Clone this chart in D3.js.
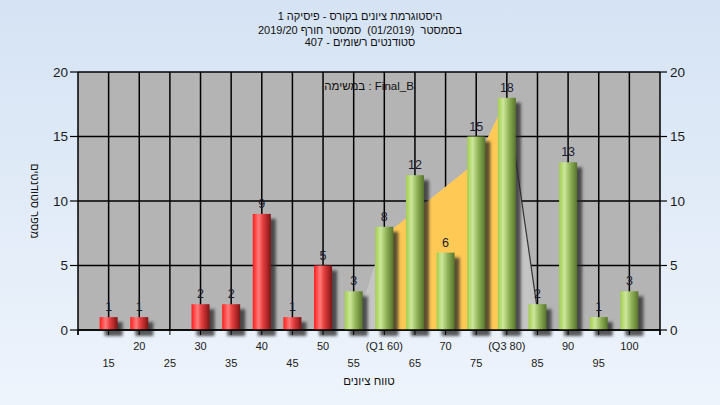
<!DOCTYPE html>
<html><head><meta charset="utf-8">
<script src="https://cdn.jsdelivr.net/npm/d3@7"></script>
<style>body{margin:0;padding:0;overflow:hidden}svg{display:block}text{font-family:"Liberation Sans",Arial,sans-serif}</style>
</head><body>
<script>
const titleLines = ["היסטוגרמת ציונים בקורס - פיסיקה 1", "בסמסטר  (01/2019)  סמסטר חורף 2019/20", "סטודנטים רשומים - 407"];
const categories = [15,20,25,30,35,40,45,50,55,60,65,70,75,80,85,90,95,100];
const counts = [1,1,0,2,2,9,1,5,3,8,12,6,15,18,2,13,1,3];
const passMark = 55;
const xTickLabels = {60:"(Q1 60)", 80:"(Q3 80)"};
const yTicks = [0,5,10,15,20];
const areaCats = [55,60,75,80,85];
const areaVals = [0,7.3,13,18,1.5];
const q1 = 60, q3 = 80;
const taskLabel = "במשימה : Final_B";
const xTitle = "טווח ציונים";
const yTitle = "מספר סטודנטים";

const W=720,H=405;
const svg=d3.select("body").append("svg").attr("width",W).attr("height",H);
const defs=svg.append("defs");
const bg=defs.append("linearGradient").attr("id","bg").attr("x1",0).attr("y1",0).attr("x2",0).attr("y2",1);
bg.append("stop").attr("offset",0).attr("stop-color","#D5E3F4");
bg.append("stop").attr("offset",1).attr("stop-color","#EEF4FC");
function grad(id,stops){const g=defs.append("linearGradient").attr("id",id).attr("x1",0).attr("y1",0).attr("x2",1).attr("y2",0);
 stops.forEach(s=>g.append("stop").attr("offset",s[0]).attr("stop-color",s[1]));}
grad("red",[[0,"#FF1C1C"],[0.33,"#FF7C7C"],[0.55,"#E84040"],[1,"#7E1414"]]);
grad("green",[[0,"#A2CE4E"],[0.3,"#CCE79A"],[0.6,"#93B55A"],[1,"#56742A"]]);
defs.append("filter").attr("id","blur").attr("x","-50%").attr("y","-50%").attr("width","200%").attr("height","200%")
 .append("feGaussianBlur").attr("stdDeviation",1.8);

// Lay out words one by one, centred at (cx, cy); rev places the first word at the right
function wordLine(parent, str, cx, cy, size, rotate, rev){
  const g=parent.append("g").attr("transform",`translate(${cx},${cy})`+(rotate?` rotate(${rotate})`:""));
  let words=str.split(" ");
  if(rev) words=words.slice().reverse();
  const probe=g.append("text").attr("font-size",size).text("a a");
  const probe2=g.append("text").attr("font-size",size).text("aa");
  const sp=probe.node().getComputedTextLength()-probe2.node().getComputedTextLength();
  probe.remove();probe2.remove();
  const els=words.map(w=>g.append("text").attr("font-size",size).attr("fill","#111").attr("dy","0.35em").text(w));
  const widths=els.map(e=>e.node().getComputedTextLength());
  const total=d3.sum(widths)+sp*(words.length-1);
  let cur=-total/2;
  els.forEach((e,i)=>{e.attr("x",cur+widths[i]/2).attr("text-anchor","middle");cur+=widths[i]+sp;});
  return g;
}

svg.append("rect").attr("width",W).attr("height",H).attr("fill","url(#bg)");

const L=78,R=660,T=72,B=330;
const x=d3.scaleLinear().domain([10,105]).range([L,R]);
const y=d3.scaleLinear().domain([0,20]).range([B,T]);

svg.append("rect").attr("x",L).attr("y",T).attr("width",R-L).attr("height",B-T).attr("fill","#B4B4B4");

// grid
const grid=svg.append("g").attr("stroke","#000").attr("stroke-width",1.5);
grid.selectAll("line.h").data(yTicks).join("line").attr("x1",L).attr("x2",R).attr("y1",d=>y(d)).attr("y2",d=>y(d));
grid.selectAll("line.v").data(categories).join("line").attr("y1",T).attr("y2",B).attr("x1",d=>x(d)).attr("x2",d=>x(d));

// area (grey full, yellow between Q1 and Q3)
const pts=areaCats.map((c,i)=>[c,areaVals[i]]);
const areaGen=d3.area().x(d=>x(d[0])).y0(y(0)).y1(d=>y(d[1]));
svg.append("path").attr("d",areaGen(pts)).attr("fill","#C4C4C4");
svg.append("path").attr("d",areaGen(pts.filter(p=>p[0]>=q1&&p[0]<=q3))).attr("fill","#FFC955");
svg.append("path").attr("d",d3.line().x(d=>x(d[0])).y(d=>y(d[1]))(pts.filter(p=>p[0]>=q3)))
 .attr("fill","none").attr("stroke","#333").attr("stroke-width",1.2);

// axes lines
svg.append("line").attr("x1",L).attr("x2",L).attr("y1",T).attr("y2",B+5).attr("stroke","#000").attr("stroke-width",1.5);
svg.append("line").attr("x1",R).attr("x2",R).attr("y1",T).attr("y2",B+5).attr("stroke","#000").attr("stroke-width",1.5);

// bars
const data=categories.map((c,i)=>({c,v:counts[i]}));
const bw=18;
const bars=svg.append("g");
bars.selectAll("rect.sh").data(data.filter(d=>d.v>0)).join("rect")
 .attr("x",d=>x(d.c)-bw/2+5).attr("y",d=>y(d.v)+5).attr("width",bw).attr("height",d=>y(0)-y(d.v)+1)
 .attr("fill","#262626").attr("opacity",0.75).attr("filter","url(#blur)");
bars.selectAll("rect.b").data(data.filter(d=>d.v>0)).join("rect")
 .attr("x",d=>x(d.c)-bw/2).attr("y",d=>y(d.v)).attr("width",bw).attr("height",d=>y(0)-y(d.v))
 .attr("fill",d=>d.c<passMark?"url(#red)":"url(#green)");
bars.selectAll("text").data(data.filter(d=>d.v>0)).join("text")
 .attr("x",d=>x(d.c)).attr("y",d=>y(d.v)-6).attr("text-anchor","middle")
 .attr("font-size",12.5).attr("fill","#1c1c30").text(d=>d.v);

// bottom axis line & ticks
svg.append("line").attr("x1",L).attr("x2",R).attr("y1",B).attr("y2",B).attr("stroke","#000").attr("stroke-width",1.5);
const xt=d3.range(10,106,5);
svg.append("g").attr("stroke","#000").selectAll("line").data(xt).join("line")
 .attr("x1",d=>x(d)).attr("x2",d=>x(d)).attr("y1",B).attr("y2",B+5);
svg.append("g").selectAll("text").data(categories).join("text")
 .attr("x",d=>x(d)).attr("y",(d,i)=>i%2===1?349.5:366.5).attr("text-anchor","middle")
 .attr("font-size",11).attr("fill","#1a1a1a").text(d=>xTickLabels[d]||d);

// y ticks
const yl=svg.append("g");
yl.selectAll("line.l").data(yTicks).join("line").attr("x1",L-8).attr("x2",L).attr("y1",d=>y(d)).attr("y2",d=>y(d)).attr("stroke","#000").attr("stroke-width",1.2);
yl.selectAll("line.r").data(yTicks).join("line").attr("x1",R).attr("x2",R+7).attr("y1",d=>y(d)).attr("y2",d=>y(d)).attr("stroke","#000").attr("stroke-width",1.2);
yl.selectAll("text.l").data(yTicks).join("text").attr("x",L-10).attr("y",d=>y(d)).attr("dy","0.36em")
 .attr("text-anchor","end").attr("font-size",13.5).attr("fill","#1a1a1a").text(d=>d);
yl.selectAll("text.r").data(yTicks).join("text").attr("x",R+10).attr("y",d=>y(d)).attr("dy","0.36em")
 .attr("text-anchor","start").attr("font-size",13.5).attr("fill","#1a1a1a").text(d=>d);

// titles
const ttl=svg.append("g");
titleLines.forEach((t,i)=>wordLine(ttl,t,360,[16.5,30,42.5][i],11,0,true));
wordLine(ttl,taskLabel,(L+R)/2,86,11.5,0,false);
wordLine(ttl,xTitle,(L+R)/2,381,11.5,0,true);
wordLine(ttl,yTitle,35,201,11,90,true);
</script>
</body></html>
